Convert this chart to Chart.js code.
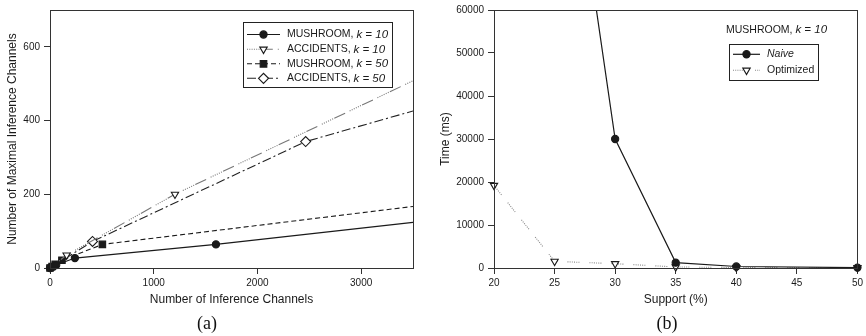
<!DOCTYPE html>
<html>
<head>
<meta charset="utf-8">
<script src="https://cdn.jsdelivr.net/npm/chart.js@4.4.0/dist/chart.umd.min.js"></script>
<style>
  body { margin: 0; background: #fff; width: 866px; height: 336px; position: relative; overflow: hidden; }
  .pane { position: absolute; top: 0; }
  .cap { position: absolute; top: 313px; width: 60px; text-align: center;
         font: 18px 'Liberation Serif', 'Times New Roman', serif; color: #111; }
</style>
</head>
<body>
<canvas id="ca" class="pane" width="433" height="336" style="left:0"></canvas>
<canvas id="cb" class="pane" width="436" height="336" style="left:430px"></canvas>
<div class="cap" style="left:177px">(a)</div>
<div class="cap" style="left:637px">(b)</div>
<script>
// (a) maximal inference channels vs inference channels
const xTicksA = [0, 1000, 2000, 3000];
const yTicksA = [0, 200, 400, 600];
const mush10X = [0, 15, 30, 60, 240, 1600, 3500];
const mush10Y = [0, 2, 4, 8, 27, 64, 124];
const acc10X = [0, 160, 1205, 3500];
const acc10Y = [0, 35, 200, 508];
const mush50X = [0, 20, 50, 115, 505, 3500];
const mush50Y = [0, 4, 10, 21, 64, 167];
const acc50X = [0, 410, 2465, 3500];
const acc50Y = [0, 72, 343, 426];

// (b) time vs support, MUSHROOM k = 10
const xTicksB = [20, 25, 30, 35, 40, 45, 50];
const yTicksB = [0, 10000, 20000, 30000, 40000, 50000, 60000];
const naiveX = [25, 30, 35, 40, 50];
const naiveY = [127000, 30000, 1250, 350, 100];
const optX = [20, 25, 30, 35, 40, 50];
const optY = [19200, 1550, 1000, 250, 100, 60];

const SANS = "'Liberation Sans', Arial, sans-serif";
const INK = '#1a1a1a';
const pts = (xs, ys) => xs.map((x, i) => ({ x, y: ys[i] }));

// frame around the plot area
const frame = {
  id: 'frame',
  afterDraw(chart) {
    const a = chart.chartArea, ctx = chart.ctx;
    ctx.save();
    ctx.strokeStyle = '#333';
    ctx.lineWidth = 1;
    ctx.strokeRect(Math.round(a.left) + 0.5, Math.round(a.top) + 0.5,
      Math.round(a.right - a.left), Math.round(a.bottom - a.top));
    ctx.restore();
  },
};

// boxed legend with mixed roman / italic labels
const boxLegend = {
  id: 'boxLegend',
  afterDraw(chart, args, o) {
    const ctx = chart.ctx;
    ctx.save();
    if (o.header) drawParts(ctx, o.header.parts, o.header.x, o.header.y);
    ctx.fillStyle = '#fff';
    ctx.fillRect(o.x, o.y, o.w, o.h);
    ctx.strokeStyle = '#222';
    ctx.lineWidth = 1;
    ctx.setLineDash([]);
    ctx.strokeRect(o.x + 0.5, o.y + 0.5, o.w, o.h);
    o.rows.forEach((r, i) => {
      const ds = chart.data.datasets[r.ds];
      const y = o.rowY[i];
      ctx.save();
      ctx.strokeStyle = ds.borderColor;
      ctx.lineWidth = ds.borderWidth;
      ctx.setLineDash(ds.borderDash || []);
      ctx.beginPath();
      ctx.moveTo(o.lineX0, y);
      ctx.lineTo(o.lineX1, y);
      ctx.stroke();
      ctx.setLineDash([]);
      ctx.fillStyle = ds.pointBackgroundColor;
      ctx.strokeStyle = ds.pointBorderColor;
      ctx.lineWidth = 1.2;
      Chart.helpers.drawPoint(ctx, {
        pointStyle: ds.pointStyle, rotation: ds.pointRotation || 0,
        radius: ds.legendRadius, borderWidth: 1.2,
      }, (o.lineX0 + o.lineX1) / 2, y);
      ctx.restore();
      drawParts(ctx, r.parts, o.textX, y);
    });
    ctx.restore();
  },
};

function drawParts(ctx, parts, x, y) {
  ctx.fillStyle = INK;
  ctx.textBaseline = 'middle';
  ctx.textAlign = 'left';
  for (const p of parts) {
    ctx.font = (p.italic ? 'italic ' : '') + p.size + 'px ' + SANS;
    ctx.fillText(p.t, x, y);
    x += ctx.measureText(p.t).width;
  }
}

const label = (name, k) => [
  { t: name + ', ', size: 10.5, italic: false },
  { t: 'k = ' + k, size: 11.5, italic: true },
];

function axis(ticks, min, max, title, titlePad, size, horizontal) {
  return {
    type: 'linear', min, max,
    afterBuildTicks: (s) => { s.ticks = ticks.map((v) => ({ value: v })); },
    afterFit: (s) => { if (horizontal) s.height = size; else s.width = size; },
    border: { display: true, color: '#333', width: 1 },
    grid: { drawOnChartArea: false, drawTicks: true, tickLength: 6, color: '#333' },
    ticks: { font: { family: SANS, size: 10 }, color: INK, padding: horizontal ? 3 : 4, maxRotation: 0,
      callback: (v) => String(v) },
    title: { display: true, text: title, color: INK, font: { family: SANS, size: 12 },
      padding: horizontal ? { top: 0, bottom: titlePad } : { top: titlePad, bottom: 0 } },
  };
}

function series(xs, ys, o) {
  const xMax = o.xMax;
  return {
    data: pts(xs, ys),
    borderColor: o.color, borderWidth: o.width || 1.1, borderDash: o.dash || [],
    pointStyle: o.style, pointRotation: o.rot || 0,
    pointBackgroundColor: o.open ? '#fff' : INK, pointBorderColor: INK, pointBorderWidth: 1.1,
    legendRadius: o.r,
    pointRadius: (c) => {
      const v = c.raw;
      if (!v) return o.r;
      if (v.x >= xMax || (o.open && v.x === 0)) return 0;
      return o.r;
    },
    pointHoverRadius: 0,
    tension: 0, fill: false,
    clip: { left: 8, bottom: 8, top: 0, right: o.clipRight == null ? 0 : o.clipRight },
  };
}

// chart (a)
new Chart(document.getElementById('ca'), {
  type: 'line',
  data: {
    datasets: [
      series(mush10X, mush10Y, { xMax: 3500, color: INK, style: 'circle', r: 3.6, width: 1.2 }),
      series(acc10X, acc10Y, { xMax: 3500, color: '#777', style: 'triangle', rot: 180, r: 4.2, open: true,
        dash: [1, 1.3, 1, 1.3, 1, 1.3, 1, 1.3, 1, 1.3, 1, 1.3, 12, 5] }),
      series(mush50X, mush50Y, { xMax: 3500, color: INK, style: 'rect', r: 4.6, dash: [5, 3] }),
      series(acc50X, acc50Y, { xMax: 3500, color: '#222', style: 'rectRot', r: 5, open: true, dash: [9, 3, 2, 3] }),
    ],
  },
  options: {
    responsive: false, animation: false, events: [],
    layout: { padding: { left: 0, top: 6, right: 20, bottom: 0 } },
    scales: {
      x: axis(xTicksA, 0, 3500, 'Number of Inference Channels', 29, 68, true),
      y: axis(yTicksA, 0, 700, 'Number of Maximal Inference Channels', 5, 50, false),
    },
    plugins: {
      legend: { display: false }, tooltip: { enabled: false },
      boxLegend: {
        x: 243, y: 22, w: 149, h: 65,
        rowY: [34.5, 49.3, 63.8, 78.3],
        lineX0: 247, lineX1: 280, textX: 287,
        rows: [
          { ds: 0, parts: label('MUSHROOM', 10) },
          { ds: 1, parts: label('ACCIDENTS', 10) },
          { ds: 2, parts: label('MUSHROOM', 50) },
          { ds: 3, parts: label('ACCIDENTS', 50) },
        ],
      },
    },
  },
  plugins: [frame, boxLegend],
});

// chart (b)
new Chart(document.getElementById('cb'), {
  type: 'line',
  data: {
    datasets: [
      series(naiveX, naiveY, { xMax: 999, color: INK, style: 'circle', r: 3.6, width: 1.2, clipRight: 8 }),
      series(optX, optY, { xMax: 999, color: '#888', style: 'triangle', rot: 180, r: 4.2, open: true, clipRight: 8,
        dash: [1, 1.2, 1, 1.2, 1, 1.2, 1, 1.2, 1, 1.2, 1, 10] }),
    ],
  },
  options: {
    responsive: false, animation: false, events: [],
    layout: { padding: { left: 0, top: 7, right: 8, bottom: 0 } },
    scales: {
      x: axis(xTicksB, 20, 50, 'Support (%)', 29, 68, true),
      y: axis(yTicksB, 0, 60000, 'Time (ms)', 8, 64, false),
    },
    plugins: {
      legend: { display: false }, tooltip: { enabled: false },
      boxLegend: {
        header: { x: 296, y: 30, parts: label('MUSHROOM', 10) },
        x: 299, y: 44, w: 89, h: 36,
        rowY: [54.3, 70.3],
        lineX0: 303, lineX1: 330, textX: 337,
        rows: [
          { ds: 0, parts: [{ t: 'Naive', size: 10.5, italic: true }] },
          { ds: 1, parts: [{ t: 'Optimized', size: 10.5, italic: false }] },
        ],
      },
    },
  },
  plugins: [frame, boxLegend],
});
</script>
</body>
</html>
